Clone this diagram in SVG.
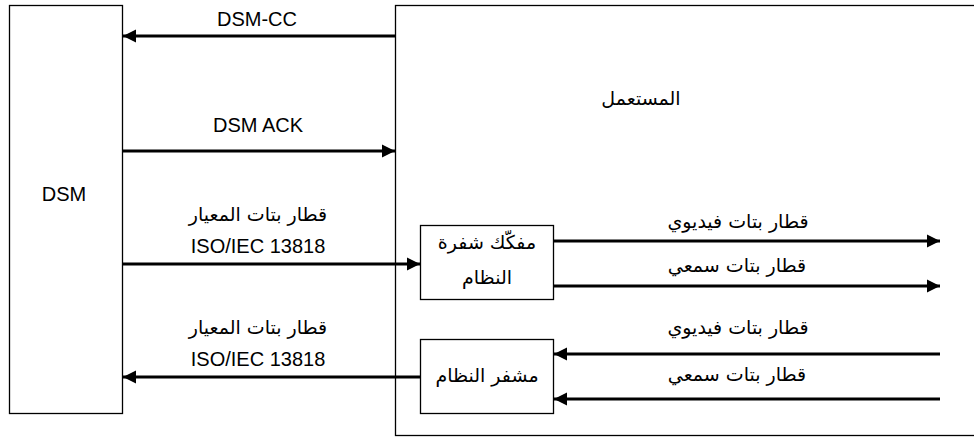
<svg xmlns="http://www.w3.org/2000/svg" width="974" height="437" viewBox="0 0 974 437">
  <style>
    .box { fill: #ffffff; stroke: #000000; stroke-width: 1.3; }
    .flow { fill: none; stroke: #000000; stroke-width: 3; }
    .lat { font-family: "Liberation Sans", Arial, sans-serif; font-size: 20px; fill: #000000; text-anchor: middle; }
    .ar { font-family: "DejaVu Sans", sans-serif; font-size: 19px; fill: #000000; text-anchor: middle; }
  </style>
  <defs>
    <marker id="head" markerUnits="userSpaceOnUse" markerWidth="14" markerHeight="14" refX="13" refY="7" orient="auto">
      <path d="M0,0.5 L13,7 L0,13.5 Z" fill="#000000"/>
    </marker>
  </defs>
  <rect width="974" height="437" fill="#ffffff"/>

  <!-- DSM -->
  <g id="dsm">
    <rect class="box" x="9.5" y="5.5" width="113" height="408"/>
    <text class="lat" x="64" y="201">DSM</text>
  </g>

  <!-- user equipment container -->
  <g id="user">
    <rect class="box" x="395.5" y="5.5" width="600" height="430"/>
    <text class="ar" x="641" y="105">المستعمل</text>
  </g>

  <!-- system decoder -->
  <g id="decoder">
    <rect class="box" x="420.5" y="225.5" width="133" height="74"/>
    <text class="ar" x="487" y="249">مفكّك شفرة</text>
    <text class="ar" x="487" y="284">النظام</text>
  </g>

  <!-- system encoder -->
  <g id="encoder">
    <rect class="box" x="420.5" y="339.5" width="133" height="74"/>
    <text class="ar" x="487" y="382">مشفر النظام</text>
  </g>

  <!-- connectors -->
  <g id="connectors">
    <line class="flow" x1="395" y1="36" x2="123" y2="36" marker-end="url(#head)"/>
    <line class="flow" x1="123" y1="151" x2="395" y2="151" marker-end="url(#head)"/>
    <line class="flow" x1="123" y1="264" x2="420" y2="264" marker-end="url(#head)"/>
    <line class="flow" x1="554" y1="241" x2="940" y2="241" marker-end="url(#head)"/>
    <line class="flow" x1="554" y1="286" x2="940" y2="286" marker-end="url(#head)"/>
    <line class="flow" x1="940" y1="354" x2="554" y2="354" marker-end="url(#head)"/>
    <line class="flow" x1="940" y1="399" x2="554" y2="399" marker-end="url(#head)"/>
    <line class="flow" x1="420" y1="377" x2="123" y2="377" marker-end="url(#head)"/>
  </g>

  <!-- connector labels -->
  <g id="labels">
    <text class="lat" x="257" y="26">DSM-CC</text>
    <text class="lat" x="258" y="132">DSM ACK</text>
    <text class="ar" x="258" y="221">قطار بتات المعيار</text>
    <text class="lat" x="258" y="253">ISO/IEC 13818</text>
    <text class="ar" x="258" y="334">قطار بتات المعيار</text>
    <text class="lat" x="258" y="366">ISO/IEC 13818</text>
    <text class="ar" x="738" y="228">قطار بتات فيديوي</text>
    <text class="ar" x="737" y="272">قطار بتات سمعي</text>
    <text class="ar" x="738" y="334">قطار بتات فيديوي</text>
    <text class="ar" x="737" y="381">قطار بتات سمعي</text>
  </g>
</svg>
